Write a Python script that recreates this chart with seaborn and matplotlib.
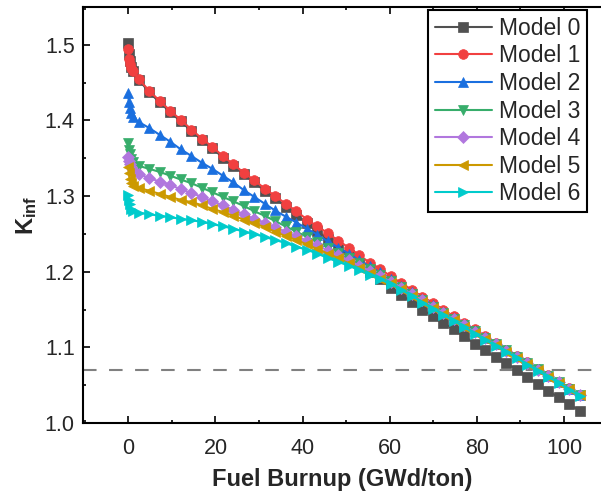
import numpy as np
import pandas as pd
import matplotlib
matplotlib.use('Agg')
import matplotlib.pyplot as plt
from matplotlib.ticker import MultipleLocator, FormatStrFormatter
import seaborn as sns

# burnup steps (GWd/ton), denser at the start
burnup = [0, 0.1, 0.3, 0.6, 1.0, 2.4, 4.8, 7.2, 9.6, 12.0, 14.5, 16.9, 19.3, 21.7,
          24.1, 26.5, 28.9, 31.3, 33.7, 36.1, 38.6, 41.0, 43.4, 45.8, 48.2, 50.6,
          53.0, 55.4, 57.8, 60.2, 62.7, 65.1, 67.5, 69.9, 72.3, 74.7, 77.1, 79.5,
          81.9, 84.3, 86.8, 89.2, 91.6, 94.0, 96.4, 98.8, 101.2, 103.6]

k_model0 = [1.502, 1.488, 1.478, 1.471, 1.465, 1.454, 1.437, 1.424, 1.411, 1.399,
            1.386, 1.374, 1.363, 1.351, 1.340, 1.329, 1.318, 1.307, 1.297, 1.286,
            1.275, 1.264, 1.254, 1.243, 1.232, 1.222, 1.211, 1.200, 1.190, 1.179,
            1.169, 1.160, 1.150, 1.141, 1.132, 1.124, 1.115, 1.105, 1.096, 1.087,
            1.079, 1.070, 1.061, 1.051, 1.042, 1.034, 1.025, 1.016]
k_model1 = [1.494, 1.481, 1.475, 1.470, 1.465, 1.455, 1.439, 1.426, 1.413, 1.401,
            1.388, 1.376, 1.365, 1.353, 1.342, 1.331, 1.321, 1.310, 1.300, 1.290,
            1.280, 1.269, 1.260, 1.251, 1.241, 1.232, 1.222, 1.212, 1.204, 1.194,
            1.185, 1.176, 1.167, 1.159, 1.150, 1.141, 1.132, 1.124, 1.115, 1.106,
            1.097, 1.089, 1.080, 1.071, 1.063, 1.054, 1.046, 1.037]
k_model2 = [1.436, 1.424, 1.416, 1.410, 1.405, 1.398, 1.390, 1.381, 1.372, 1.362,
            1.353, 1.344, 1.336, 1.327, 1.318, 1.308, 1.299, 1.290, 1.281, 1.273,
            1.265, 1.257, 1.249, 1.240, 1.232, 1.224, 1.215, 1.207, 1.199, 1.190,
            1.181, 1.173, 1.164, 1.156, 1.147, 1.139, 1.130, 1.122, 1.113, 1.105,
            1.096, 1.088, 1.079, 1.071, 1.062, 1.054, 1.045, 1.037]
k_model3 = [1.370, 1.361, 1.355, 1.349, 1.345, 1.340, 1.336, 1.332, 1.327, 1.322,
            1.317, 1.311, 1.305, 1.299, 1.293, 1.287, 1.280, 1.274, 1.267, 1.260,
            1.253, 1.246, 1.239, 1.232, 1.225, 1.218, 1.211, 1.203, 1.196, 1.188,
            1.180, 1.171, 1.163, 1.154, 1.146, 1.138, 1.129, 1.121, 1.112, 1.104,
            1.096, 1.087, 1.079, 1.071, 1.062, 1.054, 1.045, 1.037]
k_model4 = [1.352, 1.347, 1.343, 1.338, 1.334, 1.329, 1.324, 1.319, 1.315, 1.309,
            1.304, 1.299, 1.293, 1.288, 1.282, 1.276, 1.270, 1.265, 1.259, 1.253,
            1.247, 1.241, 1.235, 1.228, 1.222, 1.215, 1.208, 1.201, 1.194, 1.187,
            1.179, 1.170, 1.162, 1.154, 1.145, 1.137, 1.129, 1.120, 1.112, 1.104,
            1.095, 1.087, 1.079, 1.070, 1.062, 1.054, 1.045, 1.037]
k_model5 = [1.339, 1.330, 1.322, 1.317, 1.314, 1.311, 1.307, 1.303, 1.299, 1.295,
            1.292, 1.288, 1.283, 1.279, 1.274, 1.269, 1.264, 1.259, 1.253, 1.247,
            1.242, 1.236, 1.230, 1.224, 1.218, 1.211, 1.205, 1.198, 1.191, 1.185,
            1.177, 1.168, 1.160, 1.152, 1.144, 1.136, 1.127, 1.119, 1.111, 1.103,
            1.094, 1.086, 1.078, 1.070, 1.061, 1.053, 1.045, 1.037]
k_model6 = [1.301, 1.295, 1.289, 1.283, 1.280, 1.278, 1.276, 1.274, 1.272, 1.270,
            1.268, 1.266, 1.263, 1.260, 1.257, 1.253, 1.250, 1.246, 1.242, 1.238,
            1.233, 1.229, 1.224, 1.218, 1.213, 1.208, 1.202, 1.196, 1.190, 1.184,
            1.176, 1.168, 1.159, 1.151, 1.143, 1.135, 1.127, 1.118, 1.110, 1.102,
            1.094, 1.086, 1.077, 1.069, 1.061, 1.053, 1.044, 1.036]

labels = ['Model 0', 'Model 1', 'Model 2', 'Model 3', 'Model 4', 'Model 5', 'Model 6']
series = [k_model0, k_model1, k_model2, k_model3, k_model4, k_model5, k_model6]
colors = ['#515151', '#F14040', '#1A6FDF', '#37AD6B', '#B177DE', '#CC9900', '#00CBCC']
markers = ['s', 'o', '^', 'v', 'D', '<', '>']
msizes = [6.5, 7, 7, 7, 6, 7, 7]

k_limit = 1.07

sns.set_style('ticks')
plt.rcParams['font.family'] = ['Liberation Sans', 'DejaVu Sans']
plt.rcParams['mathtext.fontset'] = 'custom'
plt.rcParams['mathtext.rm'] = 'Liberation Sans'
plt.rcParams['mathtext.bf'] = 'Liberation Sans:bold'

fig = plt.figure(figsize=(6.01, 4.95), dpi=100)
ax = fig.add_axes([83 / 601, 72 / 495, 518 / 601, 416 / 495])

for lab, vals, c, m, ms in zip(labels, series, colors, markers, msizes):
    df = pd.DataFrame({'burnup': burnup, 'k': vals})
    sns.lineplot(data=df, x='burnup', y='k', ax=ax, color=c, marker=m,
                 markersize=ms, markeredgecolor=c, markeredgewidth=0.5,
                 linewidth=1.5, label=lab)

ax.axhline(k_limit, color='#808080', linewidth=1.5, linestyle=(0, (6.5, 6)), zorder=1)

ax.set_xlim(-10.4, 108.5)
ax.set_ylim(1.0, 1.55)
ax.xaxis.set_major_locator(MultipleLocator(20))
ax.xaxis.set_minor_locator(MultipleLocator(10))
ax.yaxis.set_major_locator(MultipleLocator(0.1))
ax.yaxis.set_minor_locator(MultipleLocator(0.05))
ax.yaxis.set_major_formatter(FormatStrFormatter('%.1f'))

# right edge of the frame falls on the image border
ax.tick_params(which='both', direction='in', top=True, right=False, width=1.4)
ax.tick_params(which='major', length=5)
ax.tick_params(which='minor', length=2.5)
ax.tick_params(axis='x', which='major', labelsize=15.5, pad=11)
ax.tick_params(axis='y', which='major', labelsize=15.5, pad=6)
for sp in ax.spines.values():
    sp.set_linewidth(1.5)
    sp.set_color('black')
ax.spines['right'].set_visible(False)

ax.set_xlabel('Fuel Burnup (GWd/ton)', fontsize=17, fontweight='bold', labelpad=6)
ax.set_ylabel(r'$\mathbf{K_{inf}}$', fontsize=17, labelpad=4)

leg = ax.legend(loc='upper right', bbox_to_anchor=(0.973, 0.993), borderaxespad=0,
                fontsize=16.5, frameon=True, fancybox=False, framealpha=1,
                edgecolor='black', handlelength=2.5, handletextpad=0.3,
                labelspacing=0.2, borderpad=0.3)
leg.get_frame().set_linewidth(1.5)

fig.savefig('out.png', dpi=100)
